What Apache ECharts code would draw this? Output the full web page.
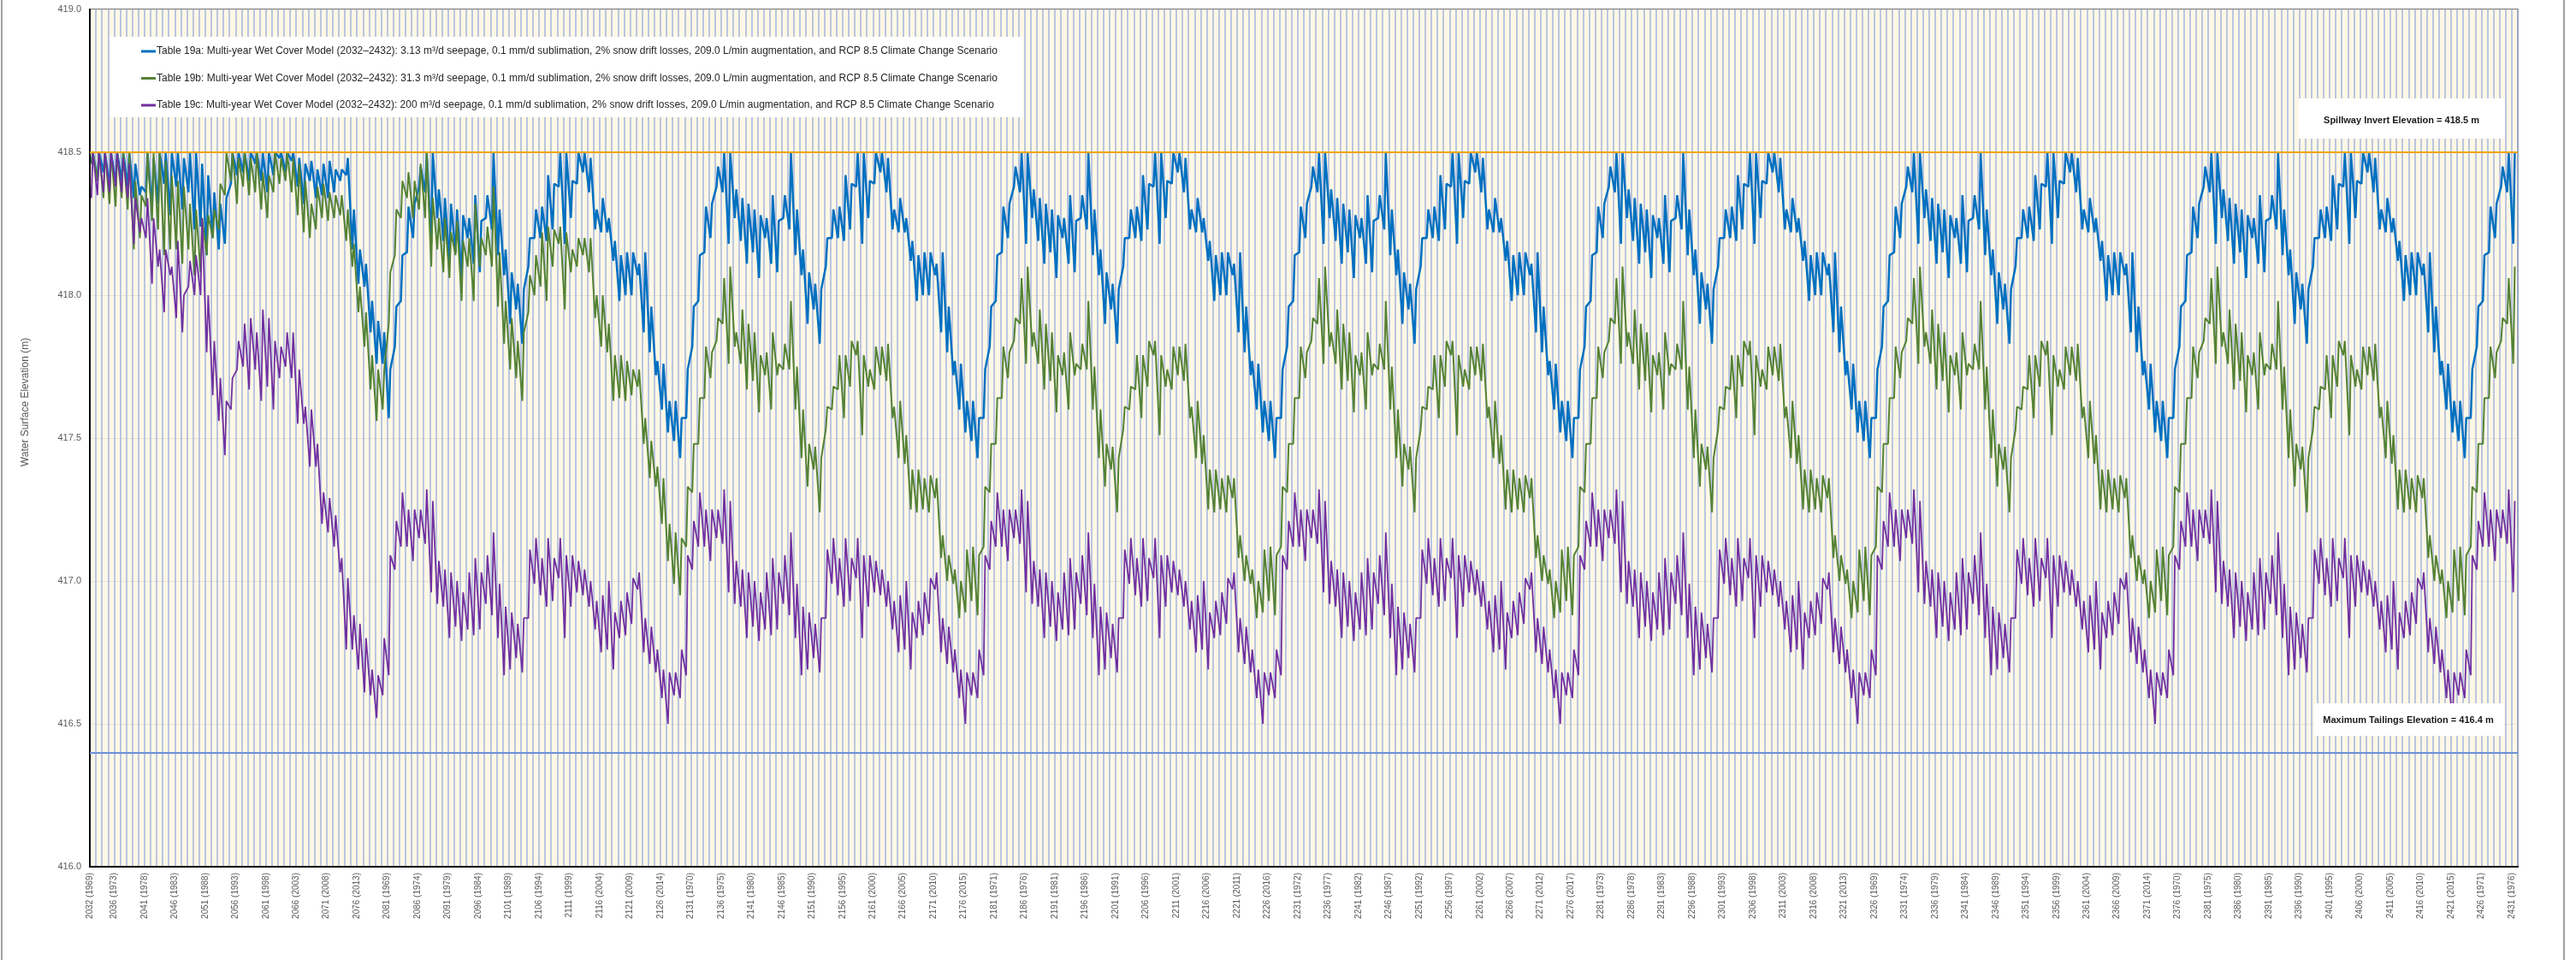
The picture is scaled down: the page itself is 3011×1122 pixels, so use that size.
<!DOCTYPE html>
<html>
<head>
<meta charset="utf-8">
<title>Water Surface Elevation</title>
<script src="https://cdn.jsdelivr.net/npm/echarts@6/dist/echarts.min.js"></script>
<style>
html, body { margin: 0; padding: 0; background: #fff; }
#chart { width: 3011px; height: 1122px; }
</style>
</head>
<body>
<div id="chart"></div>
<script>
// x axis: model years 2032..2431, the 1969..2017 climate record is looped (49-year cycle)
const startYear = 2032;
const nYears = 400;
const climateStart = 1969;
const cycleLen = 49;

const spillway = 418.5;
const maxTailings = 416.4;

const names = [
  'Table 19a: Multi-year Wet Cover Model (2032\u20132432): 3.13 m\u00b3/d seepage, 0.1 mm/d sublimation, 2% snow drift losses, 209.0 L/min augmentation, and RCP 8.5 Climate Change Scenario',
  'Table 19b: Multi-year Wet Cover Model (2032\u20132432): 31.3 m\u00b3/d seepage, 0.1 mm/d sublimation, 2% snow drift losses, 209.0 L/min augmentation, and RCP 8.5 Climate Change Scenario',
  'Table 19c: Multi-year Wet Cover Model (2032\u20132432): 200 m\u00b3/d seepage, 0.1 mm/d sublimation, 2% snow drift losses, 209.0 L/min augmentation, and RCP 8.5 Climate Change Scenario'
];

// values per year as pairs: spring low, summer high (m)
// first pass of the climate record (2032-2080)
const blueFirst = [
  418.46,418.50, 418.40,418.50, 418.43,418.50, 418.38,418.50, 418.39,418.50, 418.40,418.50, 418.38,418.50,
  418.34,418.46, 418.35,418.38, 418.36,418.50, 418.30,418.48, 418.32,418.50, 418.39,418.50, 418.28,418.50,
  418.38,418.50, 418.30,418.48, 418.36,418.50, 418.23,418.50, 418.24,418.46, 418.14,418.42, 418.20,418.36,
  418.16,418.32, 418.18,418.34, 418.39,418.50, 418.42,418.50, 418.43,418.50, 418.40,418.50, 418.46,418.50,
  418.40,418.50, 418.36,418.50, 418.42,418.50, 418.48,418.50, 418.43,418.50, 418.47,418.50, 418.38,418.48,
  418.32,418.46, 418.40,418.47, 418.34,418.44, 418.35,418.46, 418.34,418.47, 418.36,418.44, 418.40,418.44,
  418.42,418.48, 418.16,418.30, 418.04,418.16, 418.03,418.11, 417.87,417.98, 417.76,417.91, 417.76,417.87
];
// every later pass of the record (2081 onward)
const blueCycle = [
  417.57,417.74, 417.82,417.96, 417.98,418.14, 418.15,418.31, 418.20,418.32, 418.38,418.45, 418.36,418.50,
  418.18,418.50, 418.27,418.37, 418.19,418.34, 418.11,418.32, 418.15,418.30, 418.06,418.28, 418.20,418.27,
  418.11,418.35, 418.08,418.26, 418.27,418.35, 418.23,418.50, 418.14,418.30, 418.07,418.16, 417.90,418.08,
  417.95,418.04, 417.83,418.02, 418.10,418.20, 418.20,418.30, 418.20,418.31, 418.19,418.42, 418.23,418.39,
  418.38,418.50, 418.18,418.50, 418.27,418.40, 418.39,418.50, 418.43,418.50, 418.36,418.48, 418.23,418.30,
  418.22,418.34, 418.22,418.27, 418.12,418.19, 417.98,418.14, 418.00,418.15, 418.00,418.15, 418.07,418.11,
  417.87,418.15, 417.80,417.96, 417.72,417.77, 417.60,417.76, 417.52,417.63, 417.49,417.63, 417.43,417.57
];

const greenFirst = [
  418.46,418.50, 418.40,418.50, 418.34,418.50, 418.32,418.50, 418.31,418.50, 418.34,418.50, 418.30,418.50,
  418.16,418.40, 418.20,418.35, 418.31,418.50, 418.26,418.50, 418.23,418.50, 418.14,418.47, 418.16,418.42,
  418.16,418.40, 418.11,418.38, 418.16,418.32, 418.07,418.30, 418.08,418.27, 418.14,418.28, 418.20,418.30,
  418.23,418.39, 418.35,418.50, 418.40,418.50, 418.32,418.48, 418.38,418.50, 418.35,418.48, 418.36,418.50,
  418.30,418.43, 418.27,418.42, 418.36,418.50, 418.39,418.48, 418.40,418.50, 418.36,418.48, 418.28,418.46,
  418.22,418.40, 418.20,418.32, 418.23,418.38, 418.27,418.39, 418.26,418.36, 418.27,418.35, 418.28,418.35,
  418.19,418.30, 418.10,418.18, 417.94,418.03, 417.82,417.94, 417.67,417.79, 417.56,417.74, 417.60,417.74
];
// second pass (2081-2129), green is still settling
const greenSecond = [
  417.90,418.08, 418.14,418.30, 418.27,418.40, 418.34,418.43, 418.27,418.40, 418.30,418.46, 418.27,418.50,
  418.10,418.34, 418.16,418.27, 418.08,418.27, 418.06,418.22, 418.14,418.26, 417.98,418.19, 418.10,418.20,
  417.98,418.32, 418.10,418.20, 418.14,418.24, 418.10,418.38, 417.96,418.15, 417.83,417.98, 417.74,417.92,
  417.71,417.84, 417.63,417.87, 417.94,418.07, 418.00,418.14, 418.03,418.22, 417.98,418.24, 418.10,418.23,
  418.18,418.24, 417.95,418.22, 418.08,418.16, 418.10,418.20, 418.14,418.20, 418.08,418.20, 417.92,418.00,
  417.82,418.00, 417.80,417.90, 417.63,417.79, 417.64,417.79, 417.63,417.77, 417.65,417.74, 417.68,417.74,
  417.48,417.57, 417.36,417.49, 417.33,417.40, 417.20,417.36, 417.07,417.20, 416.99,417.17, 416.95,417.15
];
const greenCycle = [
  417.12,417.33, 417.31,417.48, 417.48,417.64, 417.64,417.82, 417.71,417.80, 417.84,417.92, 417.90,418.06,
  417.76,418.10, 417.82,417.87, 417.76,417.95, 417.67,417.90, 417.70,417.87, 417.59,417.79, 417.72,417.80,
  417.60,417.87, 417.72,417.76, 417.74,417.83, 417.74,417.98, 417.60,417.75, 417.43,417.60, 417.33,417.48,
  417.39,417.47, 417.24,417.43, 417.53,417.61, 417.60,417.68, 417.67,417.79, 417.57,417.79, 417.68,417.84,
  417.79,417.84, 417.51,417.79, 417.68,417.74, 417.67,417.82, 417.72,417.82, 417.70,417.83, 417.57,417.61,
  417.43,417.63, 417.41,417.51, 417.25,417.39, 417.24,417.39, 417.25,417.36, 417.24,417.37, 417.29,417.36,
  417.08,417.16, 417.00,417.09, 416.99,417.04, 416.87,417.00, 416.89,417.11, 416.93,417.12, 416.88,417.09
];

const purpleFirst = [
  418.34,418.50, 418.35,418.50, 418.36,418.50, 418.36,418.50, 418.38,418.50, 418.36,418.48, 418.34,418.46,
  418.18,418.34, 418.22,418.27, 418.20,418.34, 418.04,418.27, 418.10,418.16, 417.94,418.16, 418.07,418.10,
  417.92,418.19, 417.87,418.00, 418.03,418.12, 418.00,418.14, 418.00,418.27, 417.80,418.00, 417.65,417.84,
  417.56,417.71, 417.44,417.63, 417.60,417.71, 417.74,417.84, 417.75,417.90, 417.67,417.92, 417.74,417.87,
  417.63,417.95, 417.68,417.92, 417.60,417.84, 417.71,417.82, 417.75,417.87, 417.71,417.87, 417.55,417.74,
  417.55,417.61, 417.40,417.60, 417.40,417.48, 417.20,417.31, 417.17,417.29, 417.12,417.23, 417.03,417.08,
  416.76,417.01, 416.76,416.88, 416.69,416.85, 416.61,416.80, 416.60,416.69, 416.52,416.67, 416.60,416.80
];
const purpleCycle = [
  416.67,417.09, 417.04,417.21, 417.12,417.31, 417.12,417.25, 417.07,417.25, 417.15,417.25, 417.13,417.32,
  416.96,417.28, 416.92,417.07, 416.91,417.04, 416.80,417.03, 416.84,417.00, 416.79,416.96, 416.83,417.03,
  416.81,417.08, 416.83,417.03, 416.92,417.09, 416.88,417.17, 416.80,416.99, 416.67,416.91, 416.69,416.89,
  416.73,416.85, 416.68,416.87, 416.87,417.11, 416.99,417.15, 416.95,417.08, 416.91,417.15, 416.93,417.08,
  417.01,417.15, 416.80,417.09, 416.91,417.09, 416.96,417.07, 416.95,417.04, 416.91,417.00, 416.83,416.93,
  416.75,416.95, 416.76,417.00, 416.69,416.89, 416.80,416.93, 416.81,416.96, 416.85,417.01, 416.97,417.03,
  416.75,416.87, 416.71,416.84, 416.68,416.76, 416.59,416.69, 416.50,416.68, 416.60,416.68, 416.59,416.76
];

// lay the passes of the climate record end to end over the 400 model years
function joinPasses(passes, cycle) {
  let vals = [].concat(...passes);
  while (vals.length < nYears * 2) vals = vals.concat(cycle);
  vals = vals.slice(0, nYears * 2);
  // low in spring, high after freshet
  return vals.map((v, k) => [Math.floor(k / 2) + (k % 2 ? 0.5 : 0.25), v]);
}

const blueData = joinPasses([blueFirst], blueCycle);
const greenData = joinPasses([greenFirst, greenSecond], greenCycle);
const purpleData = joinPasses([purpleFirst], purpleCycle);

function yearLabel(i) {
  const y = startYear + i;
  return y + ' (' + (climateStart + (i % cycleLen)) + ')';
}

const font = '"Liberation Sans", Arial, sans-serif';

const chart = echarts.init(document.getElementById('chart'));

const option = {
  animation: false,
  backgroundColor: '#ffffff',
  textStyle: { fontFamily: font },
  grid: {
    left: 105, right: 68, top: 11, bottom: 109,
    show: true,
    backgroundColor: '#fdf8e6',
    borderColor: '#555555',
    borderWidth: 1.5
  },
  legend: {
    data: names,
    orient: 'vertical',
    left: 165,
    top: 50,
    padding: 0,
    itemGap: 11.5,
    itemWidth: 17,
    itemHeight: 3,
    icon: 'rect',
    z: 6,
    textStyle: { fontFamily: font, fontSize: 12, color: '#262626', lineHeight: 20, padding: [0, 0, 0, -4] }
  },
  xAxis: {
    type: 'value',
    min: 0,
    max: nYears,
    interval: 1,
    axisLine: { show: true, onZero: false, lineStyle: { color: '#000', width: 2 } },
    axisTick: { show: false },
    axisLabel: {
      rotate: 90,
      margin: 7,
      fontSize: 10,
      color: '#595959',
      fontFamily: font,
      formatter: function (v) {
        const i = Math.round(v);
        if (i >= nYears) return '';
        const y = startYear + i;
        return (i === 0 || (y - 2031) % 5 === 0) ? yearLabel(i) : '';
      }
    },
    splitLine: { show: true, lineStyle: { color: '#a6b4de', width: 1.5 } }
  },
  yAxis: {
    type: 'value',
    min: 416,
    max: 419,
    interval: 0.5,
    axisLine: { show: true, lineStyle: { color: '#000', width: 2 } },
    axisTick: { show: false },
    axisLabel: {
      margin: 10,
      fontSize: 11,
      color: '#595959',
      fontFamily: font,
      formatter: v => v.toFixed(1)
    },
    splitLine: { show: true, lineStyle: { color: '#e6e2d6', width: 1 } }
  },
  graphic: [
    {
      type: 'text', x: 30, y: 470, rotation: Math.PI / 2,
      style: { text: 'Water Surface Elevation (m)', fontSize: 12, fill: '#595959', fontFamily: font, align: 'center', verticalAlign: 'middle' }
    },
    { type: 'rect', shape: { x: 2, y: -10, width: 2995, height: 1145 }, style: { fill: 'none', stroke: '#a0a0a0', lineWidth: 2 }, z: 0 },
    { type: 'rect', shape: { x: 128, y: 43, width: 1068, height: 94 }, style: { fill: '#ffffff' }, z: 5 },
    {
      type: 'group', z: 10,
      children: [
        { type: 'rect', shape: { x: 2687, y: 115, width: 241, height: 47 }, style: { fill: '#ffffff' }, z: 10 },
        { type: 'text', x: 2807, y: 141, style: { text: 'Spillway Invert Elevation = ' + spillway.toFixed(1) + ' m', fontSize: 11, fontWeight: 'bold', fill: '#1a1a1a', align: 'center', verticalAlign: 'middle', fontFamily: font }, z: 11 },
        { type: 'rect', shape: { x: 2705, y: 822, width: 222, height: 38 }, style: { fill: '#ffffff' }, z: 10 },
        { type: 'text', x: 2815, y: 842, style: { text: 'Maximum Tailings Elevation = ' + maxTailings.toFixed(1) + ' m', fontSize: 11, fontWeight: 'bold', fill: '#1a1a1a', align: 'center', verticalAlign: 'middle', fontFamily: font }, z: 11 }
      ]
    }
  ],
  series: [
    {
      name: names[0], type: 'line', data: blueData, showSymbol: false, symbol: 'none',
      lineStyle: { color: '#0070c0', width: 2.5 }, itemStyle: { color: '#0070c0' }
    },
    {
      name: names[1], type: 'line', data: greenData, showSymbol: false, symbol: 'none',
      lineStyle: { color: '#548235', width: 2 }, itemStyle: { color: '#548235' }
    },
    {
      name: names[2], type: 'line', data: purpleData, showSymbol: false, symbol: 'none',
      lineStyle: { color: '#7030a0', width: 1.8 }, itemStyle: { color: '#7030a0' }
    },
    {
      name: 'limits', type: 'line', data: [], silent: true,
      markLine: {
        symbol: 'none', silent: true, label: { show: false },
        data: [
          { yAxis: spillway, lineStyle: { color: '#f0a500', width: 2, type: 'solid' } },
          { yAxis: maxTailings, lineStyle: { color: '#6e8fd6', width: 2, type: 'solid' } }
        ]
      }
    }
  ]
};

chart.setOption(option);
</script>
</body>
</html>
